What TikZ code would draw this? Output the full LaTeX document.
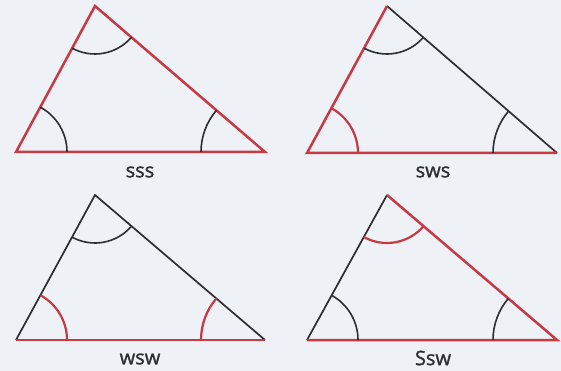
\documentclass[tikz,border=0pt]{standalone}
\usepackage{fontspec}
\setmainfont{Open Sans}
\newfontfamily\lblfont[FakeBold=1.2]{Open Sans}
\usetikzlibrary{angles}
\definecolor{bgc}{RGB}{238,241,246}
\definecolor{redc}{RGB}{198,58,70}
\definecolor{darkc}{RGB}{45,45,50}
\tikzset{
  blk/.style={draw=darkc, line width=1.7pt},
  rd/.style={draw=redc, line width=2.5pt},
  arcb/.style={draw=darkc, line width=1.6pt},
  arcr/.style={draw=redc, line width=2.2pt},
  lbl/.style={font=\lblfont\fontsize{20}{22}\selectfont, text=darkc, inner sep=0pt}
}
\begin{document}
\begin{tikzpicture}[x=1pt,y=-1pt]
\fill[bgc] (0,0) rectangle (561,371);
\useasboundingbox (0,0) rectangle (561,371);
% triangle 1
\coordinate (A1) at (16,152); \coordinate (B1) at (95,6); \coordinate (C1) at (265,152);
% triangle 2
\coordinate (A2) at (307,153); \coordinate (B2) at (387,6); \coordinate (C2) at (557,153);
% triangle 3
\coordinate (A3) at (16,340); \coordinate (B3) at (95,195); \coordinate (C3) at (265,340);
% triangle 4
\coordinate (A4) at (307,340); \coordinate (B4) at (387,195); \coordinate (C4) at (557,340);

% T1: sss
\draw[rd, line join=miter] (A1) -- (B1) -- (C1) -- cycle;
\pic[arcb, angle radius=51pt] {angle = C1--A1--B1};
\pic[arcb, angle radius=64pt] {angle = B1--C1--A1};
\pic[arcb, angle radius=48pt] {angle = A1--B1--C1};
\node[lbl] (L1) at (140,172) {sss};

% T2: sws
\draw[blk] (B2) -- (C2);
\draw[rd] (B2) -- (A2) -- (C2);
\pic[arcr, angle radius=51pt] {angle = C2--A2--B2};
\pic[arcb, angle radius=64pt] {angle = B2--C2--A2};
\pic[arcb, angle radius=48pt] {angle = A2--B2--C2};
\node[lbl] (L2) at (433,172) {sws};

% T3: wsw
\draw[blk] (A3) -- (B3) -- (C3);
\draw[rd] (A3) -- (C3);
\pic[arcr, angle radius=51pt] {angle = C3--A3--B3};
\pic[arcr, angle radius=64pt] {angle = B3--C3--A3};
\pic[arcb, angle radius=48pt] {angle = A3--B3--C3};
\node[lbl] (L3) at (140,359) {wsw};

% T4: Ssw
\draw[blk] (A4) -- (B4);
\draw[rd] (B4) -- (C4) -- (A4);
\pic[arcb, angle radius=51pt] {angle = C4--A4--B4};
\pic[arcb, angle radius=64pt] {angle = B4--C4--A4};
\pic[arcr, angle radius=48pt] {angle = A4--B4--C4};
\node[lbl] (L4) at (433,358) {Ssw};
\end{tikzpicture}
\end{document}
